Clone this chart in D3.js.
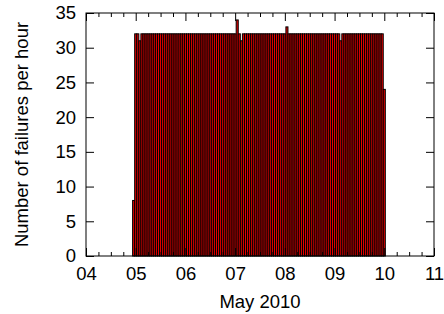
<!DOCTYPE html>
<html>
<head>
<meta charset="utf-8">
<script src="https://cdn.jsdelivr.net/npm/d3@7"></script>
<style>
  body { margin: 0; background: #fff; }
  svg { display: block; }
  text { font-family: "Liberation Sans", Arial, Helvetica, sans-serif; }
</style>
</head>
<body>
<svg id="chart" width="444" height="314"></svg>
<script>
// hourly failure counts, first bar is 2010-05-04 23:00 UTC
const first_hour = Date.UTC(2010, 4, 4, 23);
const failures = [
    8,
    // 05
    32, 32, 31, 32, 32, 32, 32, 32, 32, 32, 32, 32, 32, 32, 32, 32, 32, 32, 32, 32, 32, 32, 32, 32,
    // 06
    32, 32, 32, 32, 32, 32, 32, 32, 32, 32, 32, 32, 32, 32, 32, 32, 32, 32, 32, 32, 32, 32, 32, 32,
    // 07
    32, 34, 32, 31, 32, 32, 32, 32, 32, 32, 32, 32, 32, 32, 32, 32, 32, 32, 32, 32, 32, 32, 32, 32,
    // 08
    32, 33, 32, 32, 32, 32, 32, 32, 32, 32, 32, 32, 32, 32, 32, 32, 32, 32, 32, 32, 32, 32, 32, 32,
    // 09
    32, 32, 32, 31, 32, 32, 32, 32, 32, 32, 32, 32, 32, 32, 32, 32, 32, 32, 32, 32, 32, 32, 32, 32,
    // 10
    24
];
const x_domain = [Date.UTC(2010, 4, 4), Date.UTC(2010, 4, 11)];
const y_ticks = [0, 5, 10, 15, 20, 25, 30, 35];
const x_label = "May 2010";
const y_label = "Number of failures per hour";

const width = 444, height = 314;
const margin = { top: 13, right: 10, bottom: 58, left: 86 };
const HOUR = 3600 * 1000;
const font_size = 18.5;

const svg = d3.select("#chart");

let x_scale = d3.scaleUtc()
    .domain(x_domain)
    .range([margin.left, width - margin.right]);
let y_scale = d3.scaleLinear()
    .domain([0, 35])
    .range([height - margin.bottom, margin.top]);

let bars = failures.map((v, i) => ({ t: first_hour + i * HOUR, v: v }));

// bars centred on their hour
svg.append("g")
    .selectAll("rect")
    .data(bars)
    .join("rect")
    .attr("x", d => x_scale(d.t - HOUR / 2))
    .attr("width", d => x_scale(d.t + HOUR / 2) - x_scale(d.t - HOUR / 2))
    .attr("y", d => y_scale(d.v))
    .attr("height", d => y_scale(0) - y_scale(d.v))
    .attr("fill", "#e60000")
    .attr("stroke", "#000")
    .attr("stroke-width", 1);

let day_ticks = d3.utcDay.range(x_domain[0], x_domain[1] + 1);
let minor_ticks = d3.utcHour.every(6).range(x_domain[0], x_domain[1])
    .filter(t => new Date(t).getUTCHours() !== 0);

function styleAxis(g) {
    g.select(".domain").remove();
    g.selectAll("line").attr("stroke", "#000").attr("stroke-width", 1);
    g.selectAll("text").attr("font-size", font_size).attr("fill", "#000");
}

// bottom
svg.append("g")
    .attr("transform", `translate(0,${height - margin.bottom})`)
    .call(d3.axisBottom(x_scale).tickValues(day_ticks).tickFormat(d3.utcFormat("%d"))
        .tickSizeInner(-8).tickSizeOuter(0).tickPadding(11))
    .call(styleAxis);
svg.append("g")
    .attr("transform", `translate(0,${height - margin.bottom})`)
    .call(d3.axisBottom(x_scale).tickValues(minor_ticks).tickFormat("")
        .tickSizeInner(-4).tickSizeOuter(0))
    .call(styleAxis);

// top
svg.append("g")
    .attr("transform", `translate(0,${margin.top})`)
    .call(d3.axisTop(x_scale).tickValues(day_ticks).tickFormat("")
        .tickSizeInner(-8).tickSizeOuter(0))
    .call(styleAxis);
svg.append("g")
    .attr("transform", `translate(0,${margin.top})`)
    .call(d3.axisTop(x_scale).tickValues(minor_ticks).tickFormat("")
        .tickSizeInner(-4).tickSizeOuter(0))
    .call(styleAxis);

// left / right
svg.append("g")
    .attr("transform", `translate(${margin.left},0)`)
    .call(d3.axisLeft(y_scale).tickValues(y_ticks)
        .tickSizeInner(-8).tickSizeOuter(0).tickPadding(10))
    .call(styleAxis);
svg.append("g")
    .attr("transform", `translate(${width - margin.right},0)`)
    .call(d3.axisRight(y_scale).tickValues(y_ticks).tickFormat("")
        .tickSizeInner(-8).tickSizeOuter(0))
    .call(styleAxis);

// frame
svg.append("rect")
    .attr("x", margin.left)
    .attr("y", margin.top)
    .attr("width", width - margin.left - margin.right)
    .attr("height", height - margin.top - margin.bottom)
    .attr("fill", "none")
    .attr("stroke", "#000")
    .attr("stroke-width", 1);

svg.append("text")
    .attr("x", (margin.left + width - margin.right) / 2)
    .attr("y", 308)
    .attr("text-anchor", "middle")
    .attr("font-size", font_size)
    .text(x_label);

svg.append("text")
    .attr("transform", `translate(28,${(margin.top + height - margin.bottom) / 2}) rotate(-90)`)
    .attr("text-anchor", "middle")
    .attr("font-size", font_size)
    .text(y_label);
</script>
</body>
</html>
